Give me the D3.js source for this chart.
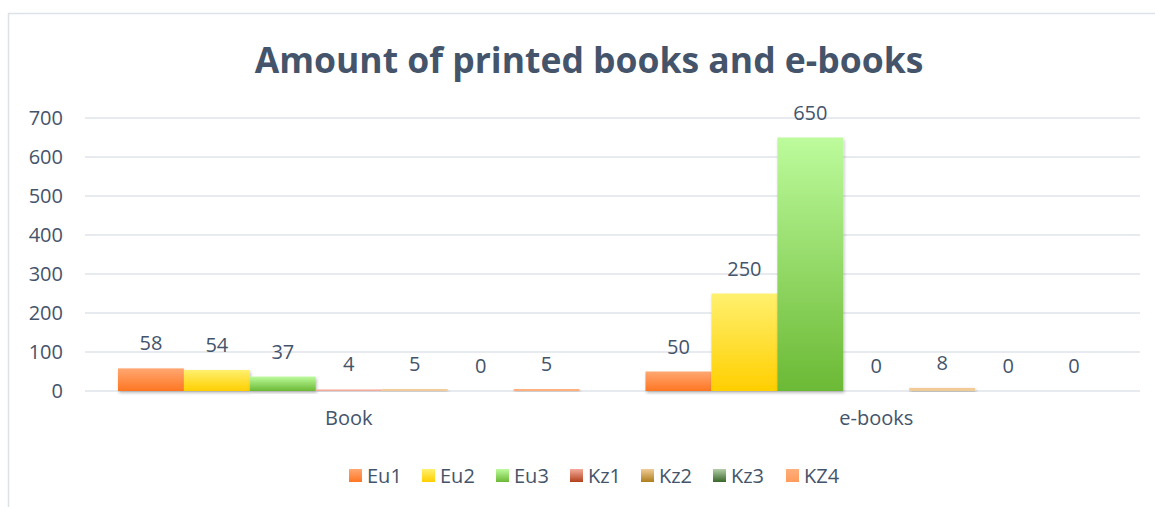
<html>
<head>
    <script src="https://d3js.org/d3.v7.min.js" charset="utf-8"></script>
    <style>
        body { margin: 0; background: #fff; }
        text { font-family: "Open Sans", "Noto Sans", sans-serif; fill: #44546a; }
    </style>
</head>
<body>
    <script type="text/javascript">
        var width = 1155;
        var height = 507;

        var margin = { left: 85, right: 15, top: 118, bottom: 116 };

        // data
        const categories = ["Book", "e-books"];
        const seriesNames = ["Eu1", "Eu2", "Eu3", "Kz1", "Kz2", "Kz3", "KZ4"];
        const bookValues = [58, 54, 37, 4, 5, 0, 5];
        const ebookValues = [50, 250, 650, 0, 8, 0, 0];
        const yTicks = [0, 100, 200, 300, 400, 500, 600, 700];

        // gradient stops per series (top, bottom)
        const gradTop = ["#ffa772", "#fff06e", "#bdfb9c", "#f4ab9c", "#f1cb98", "#b3cfa8", "#ffae7c"];
        const gradBottom = ["#ff7622", "#ffcf00", "#6bb935", "#b3401a", "#ad7e1c", "#38662a", "#ff9b5c"];

        const data = categories.map((c, i) => {
            var row = { name: c };
            var vals = i === 0 ? bookValues : ebookValues;
            seriesNames.forEach((s, j) => { row[s] = vals[j]; });
            return row;
        });

        const svg = d3.select("body").append("svg")
            .attr("width", width)
            .attr("height", height);

        var defs = svg.append("defs");
        seriesNames.forEach((s, i) => {
            var g = defs.append("linearGradient")
                .attr("id", "grad" + i)
                .attr("x1", 0).attr("y1", 0).attr("x2", 0).attr("y2", 1);
            g.append("stop").attr("offset", "0%").attr("stop-color", gradTop[i]);
            g.append("stop").attr("offset", "100%").attr("stop-color", gradBottom[i]);
        });
        var shadow = defs.append("filter").attr("id", "shadow")
            .attr("x", "-10%").attr("y", "-10%").attr("width", "130%").attr("height", "130%");
        shadow.append("feDropShadow")
            .attr("dx", 1).attr("dy", 2).attr("stdDeviation", 1.5)
            .attr("flood-color", "#000").attr("flood-opacity", 0.25);

        // chart border
        svg.append("rect")
            .attr("x", 8.5).attr("y", 13.5)
            .attr("width", width).attr("height", height)
            .attr("fill", "none")
            .attr("stroke", "#dde2e8")
            .attr("stroke-width", 1.5);

        // scales
        var yScale = d3.scaleLinear([0, 700], [height - margin.bottom, margin.top]);
        var xScale = d3.scaleBand(categories, [margin.left, width - margin.right]);
        // bars touch each other, gap of about half a bar at each side of the group
        var inner = d3.scaleBand(seriesNames, [0, xScale.bandwidth()])
            .paddingInner(0)
            .paddingOuter(0.5);

        // gridlines
        svg.append("g")
            .attr("class", "grid")
            .selectAll("line")
            .data(yTicks)
            .join("line")
                .attr("x1", margin.left)
                .attr("x2", width - margin.right)
                .attr("y1", d => yScale(d))
                .attr("y2", d => yScale(d))
                .attr("stroke", "#dfe3e9")
                .attr("stroke-width", 1.5);

        var yAxis = d3.axisLeft(yScale).tickValues(yTicks).tickSize(0).tickPadding(12);
        var yg = svg.append("g")
            .attr("transform", `translate(${margin.left - 10}, 0)`)
            .call(yAxis);
        yg.select(".domain").remove();
        yg.selectAll("text").style("font-size", "20px").attr("fill", "#44546a");

        var xAxis = d3.axisBottom(xScale).tickSize(0).tickPadding(20);
        var xg = svg.append("g")
            .attr("transform", `translate(0, ${height - margin.bottom})`)
            .call(xAxis);
        xg.select(".domain").remove();
        xg.selectAll("text").style("font-size", "20px").attr("fill", "#44546a");

        // bars
        var groups = svg.append("g")
            .attr("class", "vis-container")
            .selectAll("g")
            .data(data)
            .join("g")
                .attr("transform", d => `translate(${xScale(d.name)}, 0)`);

        groups.selectAll("rect")
            .data(d => seriesNames.map((s, i) => ({ key: s, i: i, value: d[s] })))
            .join("rect")
                .attr("x", d => inner(d.key))
                .attr("y", d => yScale(d.value))
                .attr("width", inner.bandwidth())
                .attr("height", d => Math.max(0, yScale(0) - yScale(d.value)))
                // tiny bars show mostly the light top colour
                .attr("fill", d => d.value < 10 ? gradTop[d.i] : `url(#grad${d.i})`)
                .attr("filter", "url(#shadow)");

        groups.selectAll("text")
            .data(d => seriesNames.map((s, i) => ({ key: s, i: i, value: d[s] })))
            .join("text")
                .attr("x", d => inner(d.key) + inner.bandwidth() / 2)
                .attr("y", d => yScale(d.value) - 18)
                .attr("text-anchor", "middle")
                .style("font-size", "20px")
                .text(d => d.value);

        // title
        var title = svg.append("text")
            .attr("x", 589)
            .attr("y", 73)
            .attr("text-anchor", "middle")
            .style("font-size", "34px")
            .style("font-weight", "bold")
            .text("Amount of printed books and e-books");
        var tw = title.node().getComputedTextLength();
        title.style("font-size", (34 * 669 / tw) + "px");

        // legend
        var legendX = [349, 422, 496, 570, 641, 713, 786];
        var legend = svg.append("g")
            .selectAll("g")
            .data(seriesNames)
            .join("g")
                .attr("transform", (d, i) => `translate(${legendX[i]}, 469)`);
        legend.append("rect")
            .attr("width", 13).attr("height", 13)
            .attr("fill", (d, i) => `url(#grad${i})`);
        legend.append("text")
            .attr("x", 18)
            .attr("y", 14)
            .style("font-size", "20px")
            .text(d => d);
    </script>
</body>
</html>
